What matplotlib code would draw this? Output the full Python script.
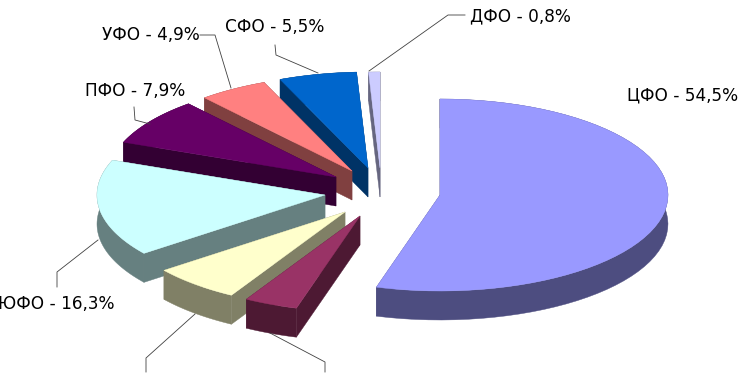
import numpy as np
import matplotlib
matplotlib.use('Agg')
import matplotlib.pyplot as plt
from matplotlib.patches import Polygon

# clockwise from 12 o'clock, the two bottom labels are cut off in the source
regions = ['ЦФО', None, None, 'ЮФО', 'ПФО', 'УФО', 'СФО', 'ДФО']
shares = [54.5, 3.8, 6.3, 16.3, 7.9, 4.9, 5.5, 0.8]
top_colors = ['#9999FF', '#993366', '#FFFFCC', '#CCFFFF', '#660066', '#FF8080', '#0066CC', '#CCCCFF']
side_colors = ['#4D4D80', '#4D1933', '#808066', '#668080', '#330033', '#804040', '#003366', '#666680']

# apex of each exploded slice, in pixels
apex_x = [440, 360, 345, 325, 336, 352, 368, 380]
apex_y = [195, 216, 212, 195, 177, 171, 168, 168]
draw_order = [7, 6, 5, 4, 3, 2, 1, 0]

label_x = [627, None, None, -2, 85, 102, 225, 470]
label_y = [95, None, None, 304, 91, 35, 27, 16]

leaders = [
    ([369, 448, 465], [71, 15, 15]),
    ([200, 215, 231], [35, 35, 88]),
    ([275, 276, 318], [45, 55, 73]),
    ([134, 135, 150], [107, 120, 124]),
    ([98, 57, 57], [240, 272, 287]),
    ([195, 146, 146], [314, 358, 372]),
    ([270, 325, 325], [333, 362, 372]),
]

rx = 228
ry = 96
depth = 29

fig = plt.figure(figsize=(7.42, 3.76), dpi=100)
ax = fig.add_axes([0, 0, 1, 1])
ax.set_xlim(0, 742)
ax.set_ylim(376, 0)
ax.axis('off')

edges = np.concatenate([[0], np.cumsum(shares)]) / np.sum(shares) * 2 * np.pi

for i in draw_order:
    t = np.linspace(edges[i], edges[i + 1], 60)
    xs = apex_x[i] + rx * np.sin(t)
    ys = apex_y[i] - ry * np.cos(t)
    cx = apex_x[i]
    cy = apex_y[i]
    # walls first, the top face paints over whatever is hidden
    rim = np.column_stack([np.r_[xs, xs[::-1]], np.r_[ys, ys[::-1] + depth]])
    wall_a = [(cx, cy), (xs[0], ys[0]), (xs[0], ys[0] + depth), (cx, cy + depth)]
    wall_b = [(cx, cy), (xs[-1], ys[-1]), (xs[-1], ys[-1] + depth), (cx, cy + depth)]
    for pts in [rim, wall_a, wall_b]:
        ax.add_patch(Polygon(pts, closed=True, fc=side_colors[i], ec=side_colors[i], lw=0.3))
    top = np.column_stack([np.r_[cx, xs], np.r_[cy, ys]])
    ax.add_patch(Polygon(top, closed=True, fc=top_colors[i], ec=top_colors[i], lw=0.3))

for lx, ly in leaders:
    ax.plot(lx, ly, color='#404040', lw=0.6, solid_joinstyle='miter')

for name, val, x, y in zip(regions, shares, label_x, label_y):
    if name is None:
        continue
    txt = f'{name} - {val}%'.replace('.', ',')
    ax.text(x, y, txt, fontsize=12.2, family='DejaVu Sans', color='black', ha='left', va='center', clip_on=False)

fig.savefig('out.png', dpi=100, facecolor='white')
